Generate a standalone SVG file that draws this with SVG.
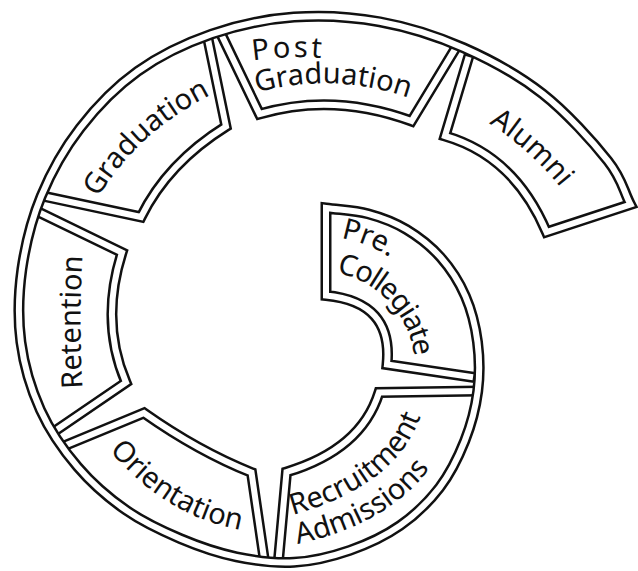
<svg xmlns="http://www.w3.org/2000/svg" width="638" height="571" viewBox="0 0 638 571">
  <style>
    /* double rule: wide black stroke with a narrower white stroke on top */
    .ink { fill: none; stroke: #111; stroke-width: 11; stroke-linejoin: miter; stroke-miterlimit: 8; }
    .gap { fill: none; stroke: #fff; stroke-width: 6; stroke-linejoin: miter; stroke-miterlimit: 8; }
    .label { font-family: "Noto Sans", "Open Sans", "DejaVu Sans", sans-serif; font-size: 29px; fill: #111; }
  </style>
  <defs>
    <!-- inner outlines of the stages that hang off the spiral wall -->
    <path id="edge-recruitment" d="M479.5,391 L379,392.5 Q361.25,449.5 286.5,472 L278.3,562.5"/>
    <path id="edge-orientation" d="M264.5,561.5 L251.5,472.5 Q198.25,451.25 144,413 L61.5,447"/>
    <path id="edge-retention" d="M52,433 L126,382.5 Q100,321.7 122,252.5 L35.3,210.5"/>
    <path id="edge-graduation" d="M41,195.7 L141,217 Q167.5,163.05 226,126.5 L207.1,34.8"/>
    <path id="edge-postgrad" d="M219.45,30.75 L259.5,114 Q333.35,92.3 411.5,121 L457.8,44.6"/>

    <!-- spiral wall: Pre-Collegiate outline, the wall itself, then the Alumni outline -->
    <path id="spiral-ink" d="M479.8,378.2 L387,364.5 Q393.25,302 326,295.5 L326,208
      C340,209.93 354.58,210.22 368,213.8 C381.42,217.38 394.4,222.24 406.5,229.5
      C418.6,236.76 430.79,246.25 440.6,257.35 C450.41,268.45 459.2,281.99 465.35,296.1
      C471.5,310.21 475.44,326.15 477.5,342 C479.56,357.85 479.83,374.78 477.72,391.22
      C475.61,407.66 471.22,424.59 464.86,440.65 C458.5,456.71 450.4,473.43 439.59,487.59
      C428.78,501.75 414.96,515.14 400,525.6 C385.04,536.06 367.49,544.23 349.82,550.35
      C332.15,556.47 312.9,561.22 294,562.3 C275.1,563.38 255.37,560.76 236.44,556.82
      C217.51,552.88 198.87,546.46 180.45,538.67 C162.03,530.88 143.05,522.04 125.92,510.08
      C108.79,498.12 91.92,483.59 77.67,466.9 C63.42,450.21 49.91,430.76 40.45,409.94
      C31,389.12 23.99,365.47 20.9,342 C17.81,318.53 18.51,293.43 21.9,269.1
      C25.29,245.77 31.51,219.55 41.21,196.05 C50.91,172.55 64.02,148.89 80.1,128.1
      C96.18,107.31 115.8,86.95 137.7,71.29 C159.6,55.63 185.47,43.2 211.52,34.17
      C237.57,25.14 265.95,19.16 294,17.1 C322.05,15.04 351.49,16.67 379.79,21.8
      C408.09,26.93 436.7,35.93 463.8,47.9 C490.9,59.87 518.39,74.78 542.4,93.6
      C566.41,112.42 593.16,142.32 607.84,160.8 C622.52,179.28 622.95,189.93 630.5,204.5
      L546.5,232 Q514.25,156 445,136 L470.5,50.5"/>
    <path id="spiral-gap" d="M473,377.2 L387,364.5 Q393.25,302 326,295.5 L326,208
      C340,209.93 354.58,210.22 368,213.8 C381.42,217.38 394.4,222.24 406.5,229.5
      C418.6,236.76 430.79,246.25 440.6,257.35 C450.41,268.45 459.2,281.99 465.35,296.1
      C471.5,310.21 475.44,326.15 477.5,342 C479.56,357.85 479.83,374.78 477.72,391.22
      C475.61,407.66 471.22,424.59 464.86,440.65 C458.5,456.71 450.4,473.43 439.59,487.59
      C428.78,501.75 414.96,515.14 400,525.6 C385.04,536.06 367.49,544.23 349.82,550.35
      C332.15,556.47 312.9,561.22 294,562.3 C275.1,563.38 255.37,560.76 236.44,556.82
      C217.51,552.88 198.87,546.46 180.45,538.67 C162.03,530.88 143.05,522.04 125.92,510.08
      C108.79,498.12 91.92,483.59 77.67,466.9 C63.42,450.21 49.91,430.76 40.45,409.94
      C31,389.12 23.99,365.47 20.9,342 C17.81,318.53 18.51,293.43 21.9,269.1
      C25.29,245.77 31.51,219.55 41.21,196.05 C50.91,172.55 64.02,148.89 80.1,128.1
      C96.18,107.31 115.8,86.95 137.7,71.29 C159.6,55.63 185.47,43.2 211.52,34.17
      C237.57,25.14 265.95,19.16 294,17.1 C322.05,15.04 351.49,16.67 379.79,21.8
      C408.09,26.93 436.7,35.93 463.8,47.9 C490.9,59.87 518.39,74.78 542.4,93.6
      C566.41,112.42 593.16,142.32 607.84,160.8 C622.52,179.28 622.95,189.93 630.5,204.5
      L546.5,232 Q514.25,156 445,136 L468.6,56.9"/>

    <!-- label baselines -->
    <path id="tp-retention" d="M86,430 Q75,322 86,214"/>
    <path id="tp-orientation" d="M85.4,417.9 Q160.6,532.5 280.6,533.5"/>
    <path id="tp-graduation" d="M82.1,229.3 Q127.55,124.9 243.2,80.9"/>
    <path id="tp-post" d="M252.8,60.5 Q349.6,46 436,93.5"/>
    <path id="tp-postgrad" d="M256.7,92.4 Q367.15,62.85 472.6,129.1"/>
    <path id="tp-alumni" d="M449.3,102.8 Q533.4,138.65 586.3,223.9"/>
    <path id="tp-pre" d="M340.9,238 A132,132 0 0 1 432.3,302"/>
    <path id="tp-collegiate" d="M336.5,272.8 A97,97 0 0 1 411.7,393.1"/>
    <path id="tp-recruit" d="M292.5,515 Q443.7,472.9 426.9,342"/>
    <path id="tp-admissions" d="M297.5,544 Q450.55,511 464.2,372"/>
  </defs>

  <rect width="638" height="571" fill="#fff"/>

  <g id="recruitment-admissions">
    <use href="#edge-recruitment" class="ink"/>
    <use href="#edge-recruitment" class="gap"/>
    <text class="label"><textPath href="#tp-recruit">Recruitment</textPath></text>
    <text class="label"><textPath href="#tp-admissions">Admissions</textPath></text>
  </g>

  <g id="orientation">
    <use href="#edge-orientation" class="ink"/>
    <use href="#edge-orientation" class="gap"/>
    <text class="label" text-anchor="middle"><textPath href="#tp-orientation" startOffset="50%">Orientation</textPath></text>
  </g>

  <g id="retention">
    <use href="#edge-retention" class="ink"/>
    <use href="#edge-retention" class="gap"/>
    <text class="label" text-anchor="middle"><textPath href="#tp-retention" startOffset="50%">Retention</textPath></text>
  </g>

  <g id="graduation">
    <use href="#edge-graduation" class="ink"/>
    <use href="#edge-graduation" class="gap"/>
    <text class="label" text-anchor="middle"><textPath href="#tp-graduation" startOffset="50%">Graduation</textPath></text>
  </g>

  <g id="post-graduation">
    <use href="#edge-postgrad" class="ink"/>
    <use href="#edge-postgrad" class="gap"/>
    <text class="label" letter-spacing="3"><textPath href="#tp-post">Post</textPath></text>
    <text class="label"><textPath href="#tp-postgrad">Graduation</textPath></text>
  </g>

  <g id="spiral-wall">
    <use href="#spiral-ink" class="ink"/>
    <use href="#spiral-gap" class="gap"/>
  </g>

  <g id="pre-collegiate">
    <text class="label"><textPath href="#tp-pre">Pre.</textPath></text>
    <text class="label" letter-spacing="-1.5"><textPath href="#tp-collegiate">Collegiate</textPath></text>
  </g>

  <g id="alumni">
    <text class="label" text-anchor="middle"><textPath href="#tp-alumni" startOffset="50%">Alumni</textPath></text>
  </g>
</svg>
